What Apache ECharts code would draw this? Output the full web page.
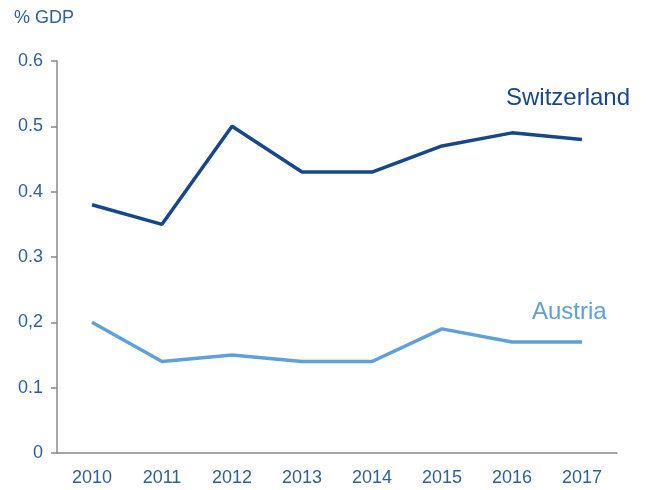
<!DOCTYPE html>
<html>
<head>
<meta charset="utf-8">
<script src="https://cdn.jsdelivr.net/npm/echarts@6/dist/echarts.min.js"></script>
<style>
  html, body { margin: 0; padding: 0; background: #fff; }
  #chart { width: 650px; height: 490px; }
</style>
</head>
<body>
<div id="chart"></div>
<script>
const years = ['2010', '2011', '2012', '2013', '2014', '2015', '2016', '2017'];
const switzerland = [0.38, 0.35, 0.50, 0.43, 0.43, 0.47, 0.49, 0.48];
const austria = [0.20, 0.14, 0.15, 0.14, 0.14, 0.19, 0.17, 0.17];
const yTickLabels = { 0: '0', 0.1: '0.1', 0.2: '0,2', 0.3: '0.3', 0.4: '0.4', 0.5: '0.5', 0.6: '0.6' };

const darkBlue = '#17478a';
const lightBlue = '#5fa0d8';
const textBlue = '#2e5f9c';
const font = 'Liberation Sans, Arial, sans-serif';

const chart = echarts.init(document.getElementById('chart'));
chart.setOption({
  backgroundColor: '#fff',
  animation: false,
  grid: { left: 57, right: 33, top: 61, bottom: 37 },
  xAxis: {
    type: 'category',
    data: years,
    boundaryGap: true,
    axisLine: { lineStyle: { color: '#888', width: 1.5 } },
    axisTick: { show: false },
    axisLabel: { color: textBlue, fontSize: 18, fontFamily: font, margin: 16 }
  },
  yAxis: {
    type: 'value',
    min: 0,
    max: 0.6,
    interval: 0.1,
    axisLine: { show: true, lineStyle: { color: '#888', width: 1.5 } },
    axisTick: { show: true, length: 6, lineStyle: { color: '#888', width: 1.5 } },
    splitLine: { show: false },
    axisLabel: {
      color: textBlue,
      fontSize: 18,
      fontFamily: font,
      margin: 14,
      formatter: (v) => yTickLabels[Math.round(v * 10) / 10] ?? String(v)
    }
  },
  graphic: [
    { type: 'text', left: 14, top: 9, style: { text: '% GDP', fill: textBlue, font: '18px ' + font } },
    { type: 'text', left: 506, top: 86, style: { text: 'Switzerland', fill: darkBlue, font: '24px ' + font } },
    { type: 'text', left: 532, top: 300, style: { text: 'Austria', fill: lightBlue, font: '24px ' + font } }
  ],
  series: [
    {
      name: 'Switzerland',
      type: 'line',
      data: switzerland,
      symbol: 'none',
      lineStyle: { color: darkBlue, width: 3.5 }
    },
    {
      name: 'Austria',
      type: 'line',
      data: austria,
      symbol: 'none',
      lineStyle: { color: lightBlue, width: 3.5 }
    }
  ]
});
</script>
</body>
</html>
